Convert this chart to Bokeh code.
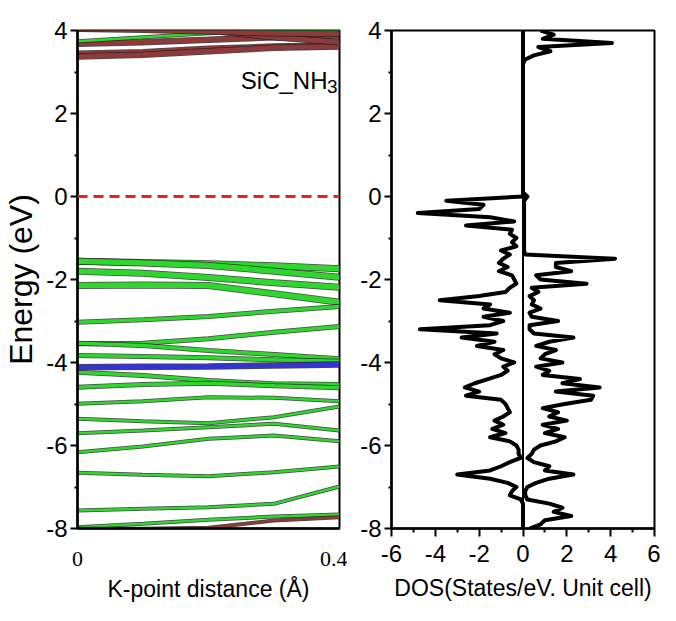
from bokeh.plotting import figure
from bokeh.layouts import row
from bokeh.models import Range1d, FixedTicker, Span, Label
from bokeh.embed import file_html
from bokeh.resources import INLINE

# ---------------- data ----------------
k_points = [0.0, 0.1, 0.2, 0.3, 0.4]

# valence bands (eV) at k_points
valence_bands = [
    [-1.558, -1.590, -1.620, -1.670, -1.743],
    [-1.560, -1.600, -1.660, -1.800, -1.944],
    [-1.799, -1.850, -1.950, -2.080, -2.185],
    [-2.145, -2.130, -2.145, -2.345, -2.546],
    [-3.028, -2.972, -2.892, -2.763, -2.651],
    [-3.550, -3.534, -3.430, -3.269, -3.133],
    [-3.534, -3.590, -3.711, -3.807, -3.912],
    [-3.831, -3.855, -3.888, -3.936, -3.968],
    [-4.233, -4.313, -4.434, -4.514, -4.530],
    [-4.594, -4.530, -4.498, -4.560, -4.610],
    [-4.996, -4.932, -4.835, -4.851, -4.932],
    [-5.357, -5.414, -5.462, -5.317, -5.060],
    [-5.703, -5.639, -5.558, -5.478, -5.639],
    [-6.161, -6.024, -5.840, -5.759, -5.896],
    [-6.659, -6.707, -6.739, -6.643, -6.506],
    [-7.566, -7.526, -7.486, -7.406, -6.988],
    [-7.968, -7.887, -7.791, -7.711, -7.663],
    [-8.008, -8.008, -7.984, -7.807, -7.727],
]
valence_kind = ["g", "g", "g", "g", "g", "g", "g", "g", "g", "g",
                "g", "g", "g", "g", "g", "g", "g", "r"]

# flat N-derived band (blue)
blue_band = [-4.112, -4.100, -4.096, -4.072, -4.048]

# conduction bands
conduction_bands = [
    [3.438, 3.478, 3.558, 3.614, 3.639],
    [3.373, 3.414, 3.502, 3.582, 3.614],
    [3.679, 3.719, 3.775, 3.839, 3.880],
    [3.743, 3.839, 3.936, 4.000, 4.016],
    [4.080, 4.040, 4.000, 3.839, 3.719],
    [4.040, 4.016, 3.976, 3.936, 3.920],
]
conduction_kind = ["r", "r", "r", "g", "r", "r"]

fermi_level = 0.0

# DOS on energy grid -8.0 ... 4.0 (step 0.1)
dos_energy = [round(-8.0 + 0.1 * i, 2) for i in range(121)]
dos_up = [
    0.3, 0.8, 1.0, 2.2, 1.4, 1.8, 1.2, 0.2, 0.1, 0.1,       # -8.0 .. -7.1
    0.2, 0.6, 1.2, 2.3, 1.0, 1.2, 0.5, 0.2, 0.4, 0.5,       # -7.0 .. -6.1
    0.8, 1.5, 1.9, 1.0, 1.6, 0.9, 2.0, 1.2, 1.6, 0.9,       # -6.0 .. -5.1
    1.9, 3.1, 3.2, 1.5, 3.5, 1.8, 2.6, 0.9, 1.2, 0.6,       # -5.0 .. -4.1
    1.8, 0.8, 1.0, 1.5, 0.6, 1.2, 2.3, 0.5, 0.3, 0.3,       # -4.0 .. -3.1
    1.6, 0.4, 0.3, 0.8, 0.4, 0.5, 0.3, 0.7, 0.4, 2.9,       # -3.0 .. -2.1
    0.8, 0.6, 2.2, 1.5, 1.5, 4.2, 0.1, 0.05, 0.05, 0.05,    # -2.0 .. -1.1
    0.05, 0.05, 0.05, 0.05, 0.05, 0.05, 0.05, 0.05, 0.05, 0.05,  # -1.0 .. -0.1
    0.2, 0.0, 0.0, 0.0, 0.0, 0.0, 0.0, 0.0, 0.0, 0.0,       # 0.0 .. 0.9
    0.0, 0.0, 0.0, 0.0, 0.0, 0.0, 0.0, 0.0, 0.0, 0.0,       # 1.0 .. 1.9
    0.0, 0.0, 0.0, 0.0, 0.0, 0.0, 0.0, 0.0, 0.0, 0.0,       # 2.0 .. 2.9
    0.0, 0.0, 0.0, 0.1, 0.5, 1.25, 0.7, 4.06, 0.9, 1.4,     # 3.0 .. 3.9
    0.8,                                                    # 4.0
]
dos_down = [
    0.0, 0.0, 0.0, 0.0, 0.0, 0.0, 0.0, -0.1, -0.6, -0.5,    # -8.0 .. -7.1
    -0.3, -0.7, -1.5, -3.0, -1.5, -1.0, -0.6, -0.1, -0.2, -0.2,  # -7.0 .. -6.1
    -0.3, -0.6, -1.5, -0.8, -1.4, -0.9, -1.3, -0.9, -0.6, -0.7,  # -6.0 .. -5.1
    -0.8, -1.0, -2.6, -2.0, -2.65, -2.2, -1.6, -1.0, -0.7, -0.9,  # -5.0 .. -4.1
    -0.4, -1.0, -1.3, -0.9, -2.1, -1.3, -2.8, -1.2, -4.7, -1.5,  # -4.0 .. -3.1
    -0.9, -1.8, -0.6, -1.8, -1.5, -3.8, -2.0, -0.8, -0.6, -0.3,  # -3.0 .. -2.1
    -0.4, -0.5, -1.1, -0.7, -1.1, -0.9, -0.6, -1.0, -0.3, -0.5,  # -2.0 .. -1.1
    -0.3, -0.6, -0.5, -2.6, -0.4, -1.5, -4.8, -2.0, -1.8, -3.5,  # -1.0 .. -0.1
    0.0, 0.0, 0.0, 0.0, 0.0, 0.0, 0.0, 0.0, 0.0, 0.0,       # 0.0 .. 0.9
    0.0, 0.0, 0.0, 0.0, 0.0, 0.0, 0.0, 0.0, 0.0, 0.0,       # 1.0 .. 1.9
    0.0, 0.0, 0.0, 0.0, 0.0, 0.0, 0.0, 0.0, 0.0, 0.0,       # 2.0 .. 2.9
    0.0, 0.0, 0.0, 0.0, 0.0, 0.0, 0.0, 0.0, 0.0, 0.0,       # 3.0 .. 3.9
    0.0,                                                    # 4.0
]

energy_ticks = [-8, -6, -4, -2, 0, 2, 4]
energy_tick_labels = ["-8", "-6", "-4", "-2", "0", "2", "4"]
dos_ticks = [-6, -4, -2, 0, 2, 4, 6]
dos_tick_labels = ["-6", "-4", "-2", "0", "2", "4", "6"]
k_ticks = [0.0, 0.4]
k_tick_labels = ["0", "0.4"]

# ---------------- styling ----------------
SANS = "Liberation Sans"
SERIF = "Liberation Serif"
GREEN = "#2ed62e"
RED = "#8e3a3a"
BLUE = "#3434d0"

FRAME_H = 498
TOP = 30
BOTTOM = 77
H = TOP + FRAME_H + BOTTOM


def style_common(p):
    p.outline_line_color = "black"
    p.outline_line_width = 2
    p.xgrid.visible = False
    p.ygrid.visible = False
    p.background_fill_color = "white"
    p.border_fill_color = "white"
    for ax in (p.xaxis[0], p.yaxis[0]):
        ax.axis_line_width = 2.5
        ax.major_tick_line_width = 2
        ax.minor_tick_line_width = 2
        ax.axis_label_text_font = SANS
        ax.axis_label_text_font_style = "normal"
        ax.axis_label_text_font_size = "23px"
        ax.axis_label_text_color = "black"
        ax.major_label_text_font = SANS
        ax.major_label_text_font_size = "24px"
        ax.major_label_text_color = "black"
    y = p.yaxis[0]
    y.ticker = FixedTicker(ticks=energy_ticks, minor_ticks=[-7, -5, -3, -1, 1, 3])
    y.major_label_overrides = {t: s for t, s in zip(energy_ticks, energy_tick_labels)}
    y.major_tick_out = 7
    y.major_tick_in = 0
    y.minor_tick_out = 3
    y.minor_tick_in = 0
    y.major_label_standoff = 3


# ---------- band structure panel ----------
p1 = figure(width=76 + 263 + 8, height=H, output_backend="svg",
            toolbar_location=None, x_range=Range1d(0, 0.4),
            y_range=Range1d(-8, 4), min_border_left=76, min_border_right=8,
            min_border_top=TOP, min_border_bottom=BOTTOM)
style_common(p1)
p1.yaxis.axis_label = "Energy (eV)"
p1.yaxis.axis_label_text_font_size = "32px"
p1.yaxis.axis_label_standoff = 4
p1.xaxis.axis_label = "K-point distance (Å)"
p1.xaxis.ticker = FixedTicker(ticks=k_ticks, minor_ticks=[])
p1.xaxis.major_label_overrides = {t: s for t, s in zip(k_ticks, k_tick_labels)}
p1.xaxis.major_label_text_font = SERIF
p1.xaxis.major_label_text_font_size = "22px"
p1.xaxis.major_tick_out = 0
p1.xaxis.major_tick_in = 0
p1.xaxis.minor_tick_out = 0
p1.xaxis.major_label_standoff = 23
p1.xaxis.axis_label_standoff = 7


def draw_band(p, energies, color, w):
    p.line(k_points, energies, line_color="#1a1a1a", line_width=w + 1.5, line_alpha=0.8)
    p.line(k_points, energies, line_color=color, line_width=w)


for i, (band, kind) in enumerate(zip(valence_bands, valence_kind)):
    w = 5.5 if i < 4 else (3.5 if i < 10 else 2.5)
    draw_band(p1, band, GREEN if kind == "g" else RED, w)

draw_band(p1, blue_band, BLUE, 5)

for band, kind in zip(conduction_bands, conduction_kind):
    draw_band(p1, band, GREEN if kind == "g" else RED, 2.5 if kind == "g" else 5)

p1.add_layout(Span(location=fermi_level, dimension="width", line_color="#ff1a1a",
                   line_width=3, line_dash="10 6"))

p1.add_layout(Label(x=0.4, y=2.8, x_offset=-12, text="SiC_NH", text_align="right",
                    text_baseline="alphabetic", text_font=SANS,
                    text_font_size="24px", text_color="black"))
p1.add_layout(Label(x=0.4, y=2.8, x_offset=-2, y_offset=-6, text="3", text_align="right",
                    text_baseline="alphabetic", text_font=SANS,
                    text_font_size="19px", text_color="black"))

# ---------- DOS panel ----------
p2 = figure(width=44 + 263 + 6, height=H, output_backend="svg",
            toolbar_location=None, x_range=Range1d(-6, 6),
            y_range=Range1d(-8, 4), min_border_left=44, min_border_right=6,
            min_border_top=TOP, min_border_bottom=BOTTOM)
style_common(p2)
p2.xaxis.axis_label = "DOS(States/eV. Unit cell)"
p2.xaxis.ticker = FixedTicker(ticks=dos_ticks, minor_ticks=[-5, -3, -1, 1, 3, 5])
p2.xaxis.major_label_overrides = {t: s for t, s in zip(dos_ticks, dos_tick_labels)}
p2.xaxis.major_tick_out = 8
p2.xaxis.major_tick_in = 0
p2.xaxis.minor_tick_out = 4
p2.xaxis.minor_tick_in = 0
p2.xaxis.major_label_standoff = 8
p2.xaxis.axis_label_standoff = 10

p2.add_layout(Span(location=0, dimension="height", line_color="black", line_width=2))
p2.line(dos_up, dos_energy, line_color="black", line_width=4, line_join="round")
p2.line(dos_down, dos_energy, line_color="black", line_width=4, line_join="round")

layout = row(p1, p2)
open("out.html", "w").write(file_html(layout, INLINE))
